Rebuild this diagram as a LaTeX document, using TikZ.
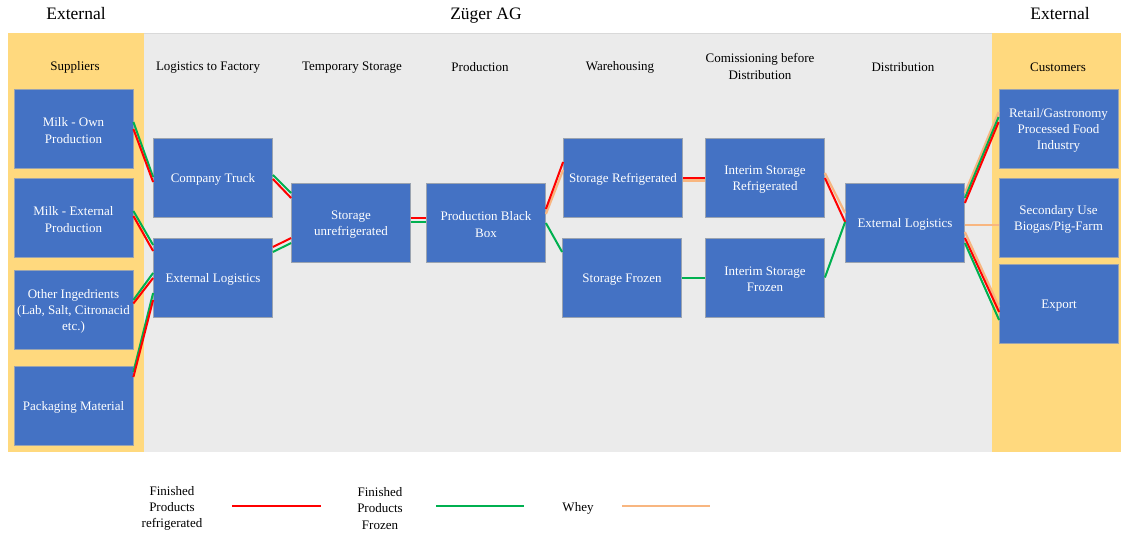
\documentclass[tikz,border=0pt]{standalone}
\usepackage{fontspec}
\setmainfont{Liberation Serif}
\definecolor{boxblue}{HTML}{4472C4}
\definecolor{boxborder}{HTML}{9AA3B0}
\definecolor{bggray}{HTML}{EBEBEB}
\definecolor{extyellow}{HTML}{FFD97E}
\definecolor{lred}{HTML}{FF0000}
\definecolor{lgreen}{HTML}{00B050}
\definecolor{lorange}{HTML}{F8B680}
\begin{document}
\begin{tikzpicture}[x=1pt,y=-1pt,
  box/.style={draw=boxborder, line width=0.8pt, fill=boxblue,
    minimum width=119pt, minimum height=79pt, inner sep=0pt},
  boxtxt/.style={text=white, align=center, inner sep=0pt,
    font=\fontsize{13}{16.3}\selectfont},
  hdr/.style={align=center, text=black, inner sep=0pt, font=\fontsize{13}{16.2}\selectfont},
  ttl/.style={text=black, inner sep=0pt, anchor=base, font=\fontsize{17.5}{20}\selectfont},
  fr/.style={draw=lred, line width=2pt},
  ff/.style={draw=lgreen, line width=2pt},
  fw/.style={draw=lorange, line width=2.2pt}]
\useasboundingbox (0,0) rectangle (1122,535);
\fill[white] (0,0) rectangle (1122,535);
% background bands
\fill[bggray] (8,33) rectangle (1121,452);
\draw[gray!30, line width=0.6pt] (8,33) -- (1121,33);
\fill[extyellow] (8,33) rectangle (144,452);
\fill[extyellow] (992,33) rectangle (1121,452);
% titles
\node[ttl] (t1) at (76,19.5) {External};
\node[ttl] (t2) at (486,19.5) {Züger AG};
\node[ttl] (t3) at (1060,19.5) {External};
% column headers
\node[hdr] (h1) at (75,67.5) {Suppliers};
\node[hdr] (h2) at (208,67.5) {Logistics to Factory};
\node[hdr] (h3) at (352,67.5) {Temporary Storage};
\node[hdr] (h4) at (480,67.5) {Production};
\node[hdr] (h5) at (620,67.5) {Warehousing};
\node[hdr] (h6) at (760,66.5) {Comissioning before\\Distribution};
\node[hdr] (h7) at (903,67.5) {Distribution};
\node[hdr] (h8) at (1058,67.5) {Customers};
% boxes
\node[box] (own) at (73.5,128.5) {};
\node[box] (ext) at (73.5,217.5) {};
\node[box] (oth) at (73.5,309.5) {};
\node[box] (pack) at (73.5,405.5) {};
\node[box] (ct) at (213,177.5) {};
\node[box] (ell) at (213,277.5) {};
\node[box] (su) at (351,222.5) {};
\node[box] (pb) at (486,222.5) {};
\node[box] (sr) at (623,177.5) {};
\node[box] (sf) at (622,277.5) {};
\node[box] (ir) at (765,177.5) {};
\node[box] (if) at (765,277.5) {};
\node[box] (elr) at (905,222.5) {};
\node[box] (ret) at (1058.5,128.5) {};
\node[box] (sec) at (1058.5,217.5) {};
\node[box] (exp) at (1059,303.5) {};
% box texts
\node[boxtxt] (ownT) at ([yshift=-2pt]own.center) {Milk - Own\\Production};
\node[boxtxt] (extT) at ([yshift=-2pt]ext.center) {Milk - External\\Production};
\node[boxtxt] (othT) at ([yshift=-2pt]oth.center) {Other Ingedrients\\(Lab, Salt, Citronacid\\etc.)};
\node[boxtxt] (packT) at ([yshift=-2pt]pack.center) {Packaging Material};
\node[boxtxt] (ctT) at ([yshift=-2pt]ct.center) {Company Truck};
\node[boxtxt] (ellT) at ([yshift=-2pt]ell.center) {External Logistics};
\node[boxtxt] (suT) at ([yshift=-2pt]su.center) {Storage\\unrefrigerated};
\node[boxtxt] (pbT) at ([yshift=-2pt]pb.center) {Production Black\\Box};
\node[boxtxt] (srT) at ([yshift=-2pt]sr.center) {Storage Refrigerated};
\node[boxtxt] (sfT) at ([yshift=-2pt]sf.center) {Storage Frozen};
\node[boxtxt] (irT) at ([yshift=-2pt]ir.center) {Interim Storage\\Refrigerated};
\node[boxtxt] (ifT) at ([yshift=-2pt]if.center) {Interim Storage\\Frozen};
\node[boxtxt] (elrT) at ([yshift=-2pt]elr.center) {External Logistics};
\node[boxtxt] (retT) at ([yshift=-2pt]ret.center) {Retail/Gastronomy\\Processed Food\\Industry};
\node[boxtxt] (secT) at ([yshift=-2pt]sec.center) {Secondary Use\\Biogas/Pig-Farm};
\node[boxtxt] (expT) at ([yshift=-2pt]exp.center) {Export};
% suppliers -> logistics
\draw[ff] ([yshift=6.5pt]own.east) -- ([yshift=0.5pt]ct.west);
\draw[fr] ([yshift=-0.5pt]own.east) -- ([yshift=-4.5pt]ct.west);
\draw[ff] ([yshift=6.5pt]ext.east) -- ([yshift=32.5pt]ell.west);
\draw[fr] ([yshift=1.5pt]ext.east) -- ([yshift=26.5pt]ell.west);
\draw[ff] ([yshift=9.5pt]oth.east) -- ([yshift=4.5pt]ell.west);
\draw[fr] ([yshift=6pt]oth.east) -- ([yshift=-0.5pt]ell.west);
\draw[ff] ([yshift=33.5pt]pack.east) -- ([yshift=-15.5pt]ell.west);
\draw[fr] ([yshift=28.5pt]pack.east) -- ([yshift=-22.5pt]ell.west);
% logistics -> storage
\draw[ff] ([yshift=2.5pt]ct.east) -- ([yshift=29.5pt]su.west);
\draw[fr] ([yshift=-1.5pt]ct.east) -- ([yshift=24.5pt]su.west);
\draw[fr] ([yshift=30.5pt]ell.east) -- ([yshift=-15.5pt]su.west);
\draw[ff] ([yshift=25.5pt]ell.east) -- ([yshift=-20.5pt]su.west);
% storage -> production
\draw[fr] ([yshift=5pt]su.east) -- ([yshift=5pt]pb.west);
\draw[ff] ([yshift=0.5pt]su.east) -- ([yshift=0.5pt]pb.west);
% production -> warehousing
\draw[fw] ([yshift=8.5pt]pb.east) -- ([yshift=7.5pt]sr.west);
\draw[fr] ([yshift=13.5pt]pb.east) -- ([yshift=15.5pt]sr.west);
\draw[ff] ([yshift=-0.5pt]pb.east) -- ([yshift=25.5pt]sf.west);
% warehousing -> commissioning
\draw[fw] ([yshift=-3pt]sr.east) -- ([yshift=-3pt]ir.west);
\draw[fr] ([yshift=0pt]sr.east) -- ([yshift=0pt]ir.west);
\draw[ff] ([yshift=0pt]sf.east) -- ([yshift=0pt]if.west);
% commissioning -> distribution
\draw[fw] ([yshift=4.5pt]ir.east) -- ([yshift=9.5pt]elr.west);
\draw[fr] ([yshift=-0.5pt]ir.east) -- ([yshift=0.5pt]elr.west);
\draw[ff] ([yshift=0pt]if.east) -- ([yshift=0.5pt]elr.west);
% distribution -> customers
\draw[fw] ([yshift=29.5pt]elr.east) -- ([yshift=16.5pt]ret.west);
\draw[ff] ([yshift=24.5pt]elr.east) -- ([yshift=11.5pt]ret.west);
\draw[fr] ([yshift=19.5pt]elr.east) -- ([yshift=6.5pt]ret.west);
\draw[fw] ([yshift=-2.5pt]elr.east) -- ([yshift=-7.5pt]sec.west);
\draw[fw] ([yshift=-9.5pt]elr.east) -- ([yshift=-3.5pt]exp.west);
\draw[fr] ([yshift=-15.5pt]elr.east) -- ([yshift=-8.5pt]exp.west);
\draw[ff] ([yshift=-20.5pt]elr.east) -- ([yshift=-16.5pt]exp.west);
% legend
\node[hdr] (l1) at (172,508.5) {Finished\\Products\\refrigerated};
\coordinate (l1a) at (232,506);
\coordinate (l1b) at (321,506);
\draw[fr] (l1a) -- (l1b);
\node[hdr] (l2) at (380,508.5) {Finished\\Products\\Frozen};
\coordinate (l2a) at (436,506);
\coordinate (l2b) at (524,506);
\draw[ff] (l2a) -- (l2b);
\node[hdr] (l3) at (578,508.5) {Whey};
\coordinate (l3a) at (622,506);
\coordinate (l3b) at (710,506);
\draw[fw] (l3a) -- (l3b);
\end{tikzpicture}
\end{document}
